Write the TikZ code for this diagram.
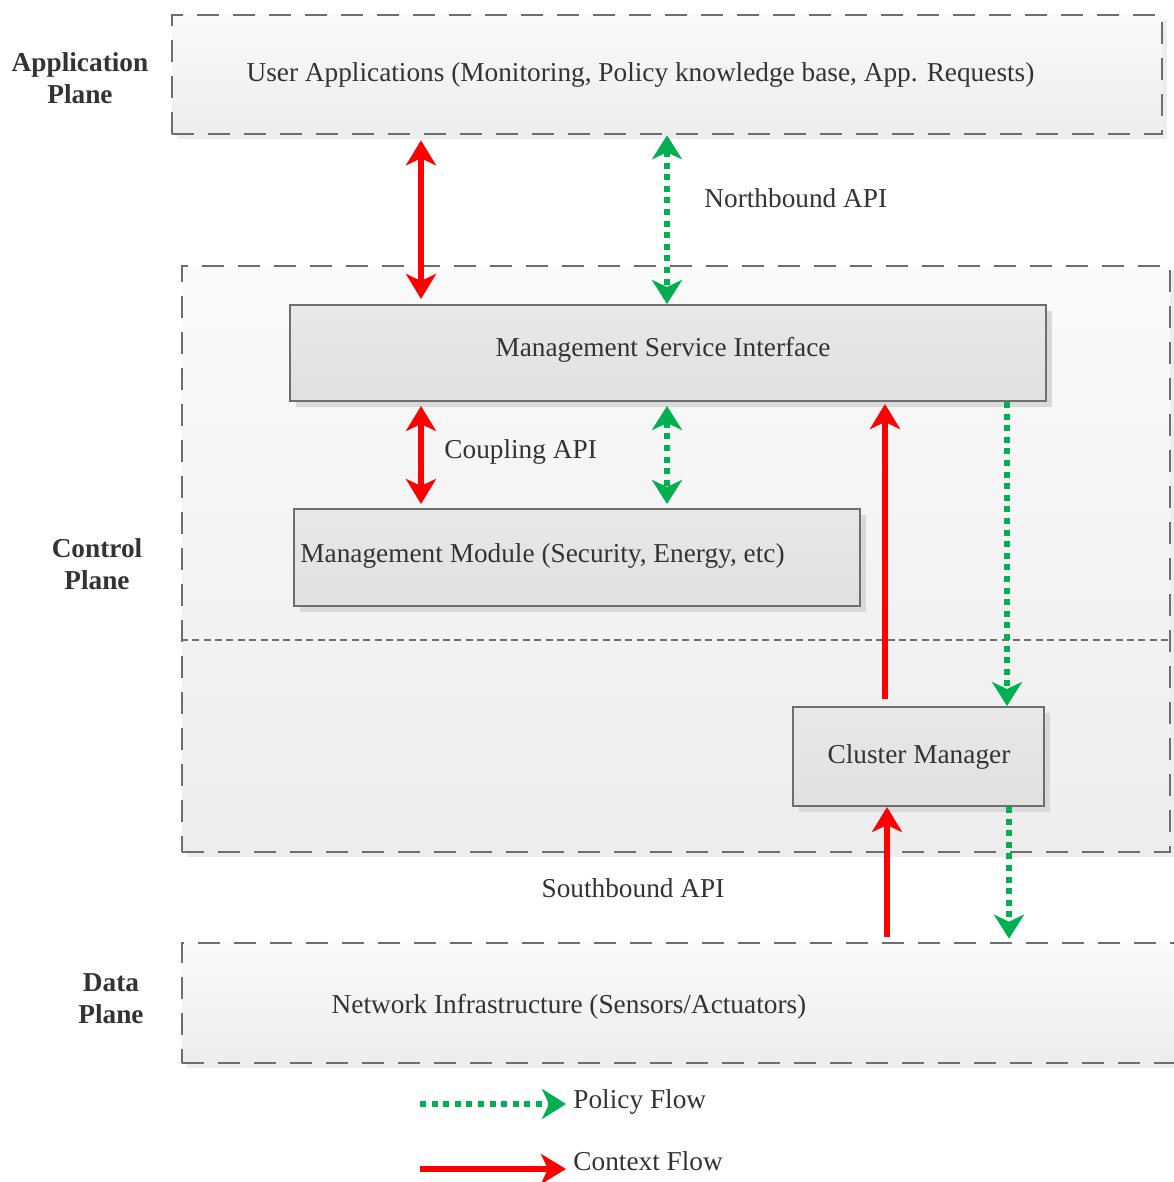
\documentclass[tikz,border=0pt]{standalone}
\usepackage{fontspec}
\setmainfont{Liberation Serif}
\usetikzlibrary{arrows.meta,shadows}
\definecolor{edge}{HTML}{6E6E6E}
\definecolor{ink}{HTML}{333333}
\definecolor{ctxred}{HTML}{FF0000}
\definecolor{polgreen}{HTML}{00B050}
\tikzset{
  redtip/.tip={Stealth[length=12.5pt,width=15pt,inset=3.5pt]},
  greentip/.tip={Stealth[length=12pt,width=15pt,inset=3.5pt]},
}
\begin{document}
\begin{tikzpicture}[x=0.5pt,y=-0.5pt,
  plane/.style={draw=edge, line width=1.3pt, dash pattern=on 11pt off 7pt,
    top color=black!2, bottom color=black!7, inner sep=0pt,
    drop shadow={shadow xshift=2.5pt, shadow yshift=-2.5pt, fill=black!7, opacity=1}},
  box/.style={draw=edge, line width=1pt, top color=black!9, bottom color=black!12,
    inner sep=0pt,
    drop shadow={shadow xshift=3pt, shadow yshift=-3pt, fill=black!15, opacity=1}},
  sepline/.style={draw=edge, line width=1pt, dash pattern=on 3.5pt off 2.2pt},
  txt/.style={text=ink, inner sep=0pt, font=\fontsize{13.65pt}{16pt}\selectfont},
  lbl/.style={txt, align=center, font=\fontsize{13.65pt}{16pt}\selectfont\bfseries},
  ctx/.style={draw=ctxred, line width=3pt, -redtip},
  ctxboth/.style={draw=ctxred, line width=3pt, redtip-redtip},
  pol/.style={draw=polgreen, line width=3pt, dash pattern=on 3pt off 2.8pt, -greentip},
  polboth/.style={draw=polgreen, line width=3pt, dash pattern=on 3pt off 2.8pt, greentip-greentip},
]
\useasboundingbox (0,0) rectangle (1173,1182);

% plane containers
\node[plane, minimum width=495pt, minimum height=59.5pt] (app) at (667,74.5) {};
\node[plane, minimum width=494pt, minimum height=293pt] (ctl) at (676,559) {};
\node[plane, minimum width=501.5pt, minimum height=60pt] (dat) at (683.5,1003) {};

% separator inside the control plane
\coordinate (sepy) at (0,640);
\draw[sepline] (ctl.west |- sepy) -- (ctl.east |- sepy);

% control plane components
\node[box, minimum width=378pt, minimum height=48pt] (msi) at (668,353) {};
\node[box, minimum width=283pt, minimum height=48.5pt] (mm) at (577,557.5) {};
\node[box, minimum width=125.5pt, minimum height=49.5pt] (cm) at (918.5,756.5) {};

% plane labels
\node[lbl] (appL) at (80,78) {Application\\Plane};
\node[lbl] (ctlL) at (97,564) {Control\\Plane};
\node[lbl] (datL) at (111,999) {Data\\Plane};

% texts
\node[txt, anchor=base] (appT) at (640.5,82) {User Applications (Monitoring, Policy knowledge base, App. Requests)};
\node[txt, anchor=base west] (nbT) at (704,207) {Northbound API};
\node[txt, anchor=base] (msiT) at (663,356) {Management Service Interface};
\node[txt, anchor=base west] (cpT) at (444,458) {Coupling API};
\node[txt, anchor=base west] (mmT) at (300,562) {Management Module (Security, Energy, etc)};
\node[txt, anchor=base] (cmT) at (919,763) {Cluster Manager};
\node[txt, anchor=base] (sbT) at (633,897) {Southbound API};
\node[txt, anchor=base] (datT) at (569,1013) {Network Infrastructure (Sensors/Actuators)};

% flow columns
\coordinate (cA) at (421,0);
\coordinate (cB) at (667,0);
\coordinate (cC) at (885,0);
\coordinate (cD) at (1007,0);
\coordinate (cE) at (887,0);
\coordinate (cF) at (1009,0);

% northbound
\draw[ctxboth, shorten <=2.5pt, shorten >=2.5pt] (app.south -| cA) -- (msi.north -| cA);
\draw[polboth] (app.south -| cB) -- (msi.north -| cB);
% coupling
\draw[ctxboth, shorten <=2pt, shorten >=2pt] (msi.south -| cA) -- (mm.north -| cA);
\draw[polboth, shorten <=2pt, shorten >=2pt] (msi.south -| cB) -- (mm.north -| cB);
% cluster manager links
\draw[ctx, shorten <=3.5pt, shorten >=1pt] (cm.north -| cC) -- (msi.south -| cC);
\draw[pol] (msi.south -| cD) -- (cm.north -| cD);
% southbound
\draw[ctx, shorten <=2.5pt] (dat.north -| cE) -- (cm.south -| cE);
\draw[pol, shorten >=1.5pt] (cm.south -| cF) -- (dat.north -| cF);

% legend
\coordinate (pol0) at (420,1104);
\coordinate (pol1) at (566,1104);
\coordinate (ctx0) at (420,1169);
\coordinate (ctx1) at (566,1169);
\draw[pol] (pol0) -- (pol1);
\draw[ctx] (ctx0) -- (ctx1);
\node[txt, anchor=base west] (polT) at (573,1108) {Policy Flow};
\node[txt, anchor=base west] (ctxT) at (573,1170) {Context Flow};
\end{tikzpicture}
\end{document}
